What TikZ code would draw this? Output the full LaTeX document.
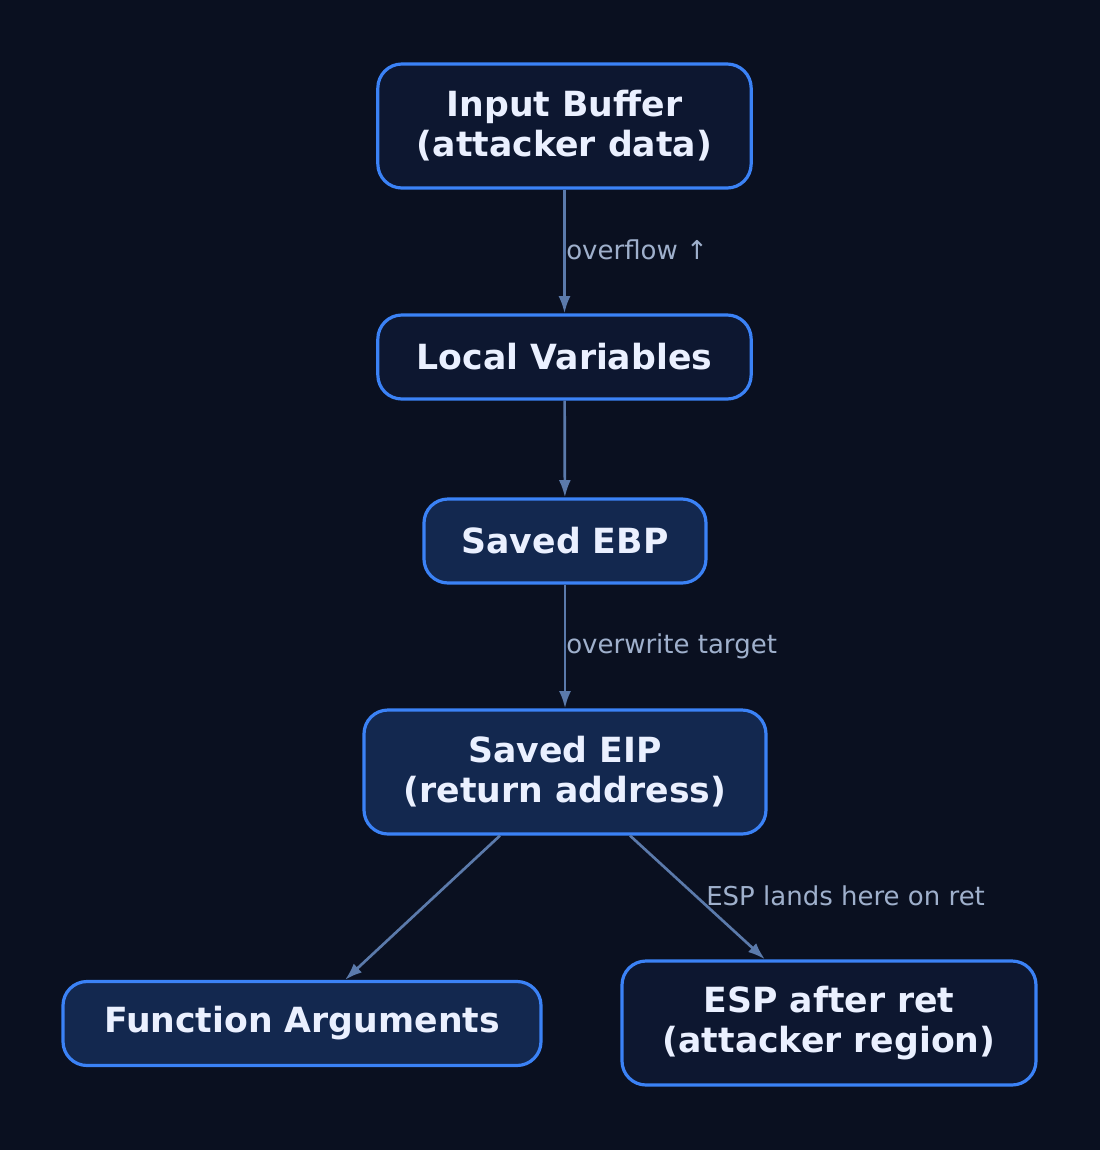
\documentclass[tikz,border=0pt]{standalone}
\usepackage{fontspec}
\setmainfont{DejaVu Sans}
\usetikzlibrary{arrows.meta, calc}
\definecolor{bgcol}{HTML}{0A1020}
\definecolor{darkbox}{HTML}{0D1730}
\definecolor{litebox}{HTML}{13284F}
\definecolor{rimcol}{HTML}{3B82F6}
\definecolor{edgecol}{HTML}{5B7AAB}
\definecolor{labcol}{HTML}{9FB0CC}
\definecolor{txtcol}{HTML}{EAF0FF}
\begin{document}
\begin{tikzpicture}[x = 0.75pt, y = -0.75pt, % pixel grid
                > = {Latex[length=13pt, width=9pt]},
                box/.style = {draw = rimcol, line width = 2.4pt, rounded corners = 18pt,
                    text = txtcol, font = \bfseries\fontsize{26}{30}\selectfont,
                    align = center, inner sep = 0pt},
                dark/.style = {box, fill = darkbox},
                lite/.style = {box, fill = litebox},
                link/.style = {->, draw = edgecol, line width = 2pt},
                tag/.style = {text = labcol, font = \fontsize{19.5}{22}\selectfont,
                    anchor = west, inner sep = 0pt}
            ]

            \fill[bgcol] (0,0) rectangle (1100,1150);

            \node (buf) [dark, minimum width = 280pt, minimum height = 93pt] at (564.5,126)
                {Input Buffer\\(attacker data)};
            \node (loc) [dark, minimum width = 280pt, minimum height = 63pt] at (564.5,357)
                {Local Variables};
            \node (ebp) [lite, minimum width = 211.5pt, minimum height = 63pt] at (565,541)
                {Saved EBP};
            \node (eip) [lite, minimum width = 301.5pt, minimum height = 93pt] at (565,772)
                {Saved EIP\\(return address)};
            \node (args) [lite, minimum width = 358.5pt, minimum height = 63pt] at (302,1023.5)
                {Function Arguments};
            \node (esp) [dark, minimum width = 310.5pt, minimum height = 93pt] at (829,1023)
                {ESP after ret\\(attacker region)};

            \draw[link] (buf) -- (loc);
            \draw[link] (loc) -- (ebp);
            \draw[link] (ebp) -- (eip);
            \draw[link] ($(eip.south)+(-65,0)$) -- ($(args.north)+(43,0)$);
            \draw[link] ($(eip.south)+(65,0)$) -- ($(esp.north)+(-64,0)$);

            \node (t1) [tag] at (566,250) {overflow ↑};
            \node (t2) [tag] at (566,646) {overwrite target};
            \node (t3) [tag] at (706,896) {ESP lands here on ret};
\end{tikzpicture}
\end{document}
